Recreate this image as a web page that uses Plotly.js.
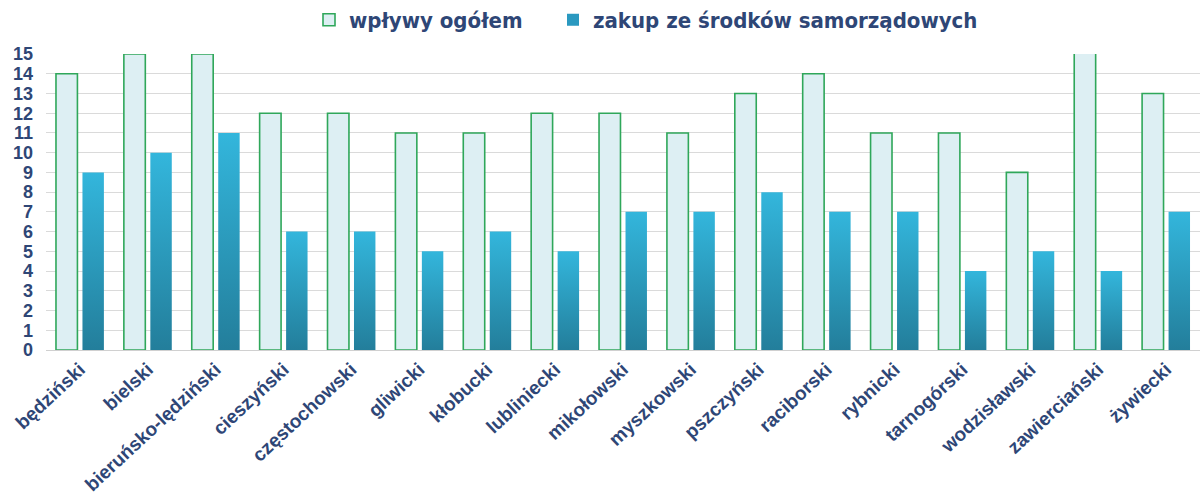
<!DOCTYPE html>
<html><head><meta charset="utf-8">
<script src="https://cdn.plot.ly/plotly-3.0.1.min.js"></script>
<style>html,body{margin:0;padding:0;background:#fff}#chart{width:1204px;height:503px}</style>
</head><body><div id="chart"></div>
<script>
const categories = ["będziński","bielski","bieruńsko-lędziński","cieszyński","częstochowski","gliwicki","kłobucki","lubliniecki","mikołowski","myszkowski","pszczyński","raciborski","rybnicki","tarnogórski","wodzisławski","zawierciański","żywiecki"];
const wplywyOgolem = [14,15,15,12,12,11,11,12,12,11,13,14,11,11,9,16,13];
const zakupSamorzad = [9,10,11,6,6,5,6,5,7,7,8,7,7,4,5,4,7];
const yTicks = [0,1,2,3,4,5,6,7,8,9,10,11,12,13,14,15];

const navy = "#2E4676";
const legendFont = {family:"DejaVu Sans Condensed, DejaVu Sans, Liberation Sans", size:22, color:navy, weight:"bold"};
const traces = [
  {type:"bar", name:"wpływy ogółem", x:categories, y:wplywyOgolem, legend:"legend",
   marker:{color:"#DDEFF3", line:{color:"#2FA75A", width:1.6}}},
  {type:"bar", name:"zakup ze środków samorządowych", x:categories, y:zakupSamorzad, legend:"legend2",
   marker:{color:"#2A99C0", line:{width:0}}}
];
const layout = {
  width:1204, height:503,
  margin:{l:46, r:4, t:54, b:153, autoexpand:false},
  paper_bgcolor:"#fff", plot_bgcolor:"#fff",
  barmode:"group", bargap:0.22, bargroupgap:0.19,
  showlegend:true,
  legend:{orientation:"h", x:(309-46)/1154, xanchor:"left", y:1.115, yanchor:"middle", font:legendFont},
  legend2:{orientation:"h", x:(553-46)/1154, xanchor:"left", y:1.115, yanchor:"middle", font:legendFont},
  xaxis:{type:"category", tickangle:-43, showgrid:false, showline:true, linecolor:"#D0D0D0", linewidth:1,
    ticks:"", tickfont:{family:"Liberation Sans, Arial", size:19, color:navy, weight:"bold"}},
  yaxis:{range:[0,15], tickvals:yTicks, showgrid:true, gridcolor:"#DADADA", gridwidth:1,
    zeroline:false, ticks:"", ticklabelstandoff:12,
    tickfont:{family:"Liberation Sans, Arial", size:18, color:navy, weight:"bold"}}
};
Plotly.newPlot("chart", traces, layout, {displayModeBar:false, staticPlot:true}).then(function(gd){
  const svg = gd.querySelector("svg.main-svg");
  const ns = "http://www.w3.org/2000/svg";
  let defs = svg.querySelector("defs");
  const lg = document.createElementNS(ns, "linearGradient");
  lg.setAttribute("id", "barGrad");
  lg.setAttribute("x1", "0"); lg.setAttribute("y1", "0");
  lg.setAttribute("x2", "0"); lg.setAttribute("y2", "1");
  [["0","#33B6DC"],["1","#237E9B"]].forEach(function(s){
    const st = document.createElementNS(ns, "stop");
    st.setAttribute("offset", s[0]); st.setAttribute("stop-color", s[1]);
    lg.appendChild(st);
  });
  defs.appendChild(lg);
  const traceGroups = gd.querySelectorAll(".barlayer .trace");
  if (traceGroups[1]) traceGroups[1].querySelectorAll("path").forEach(function(p){ p.style.fill = "url(#barGrad)"; });
});
</script></body></html>
